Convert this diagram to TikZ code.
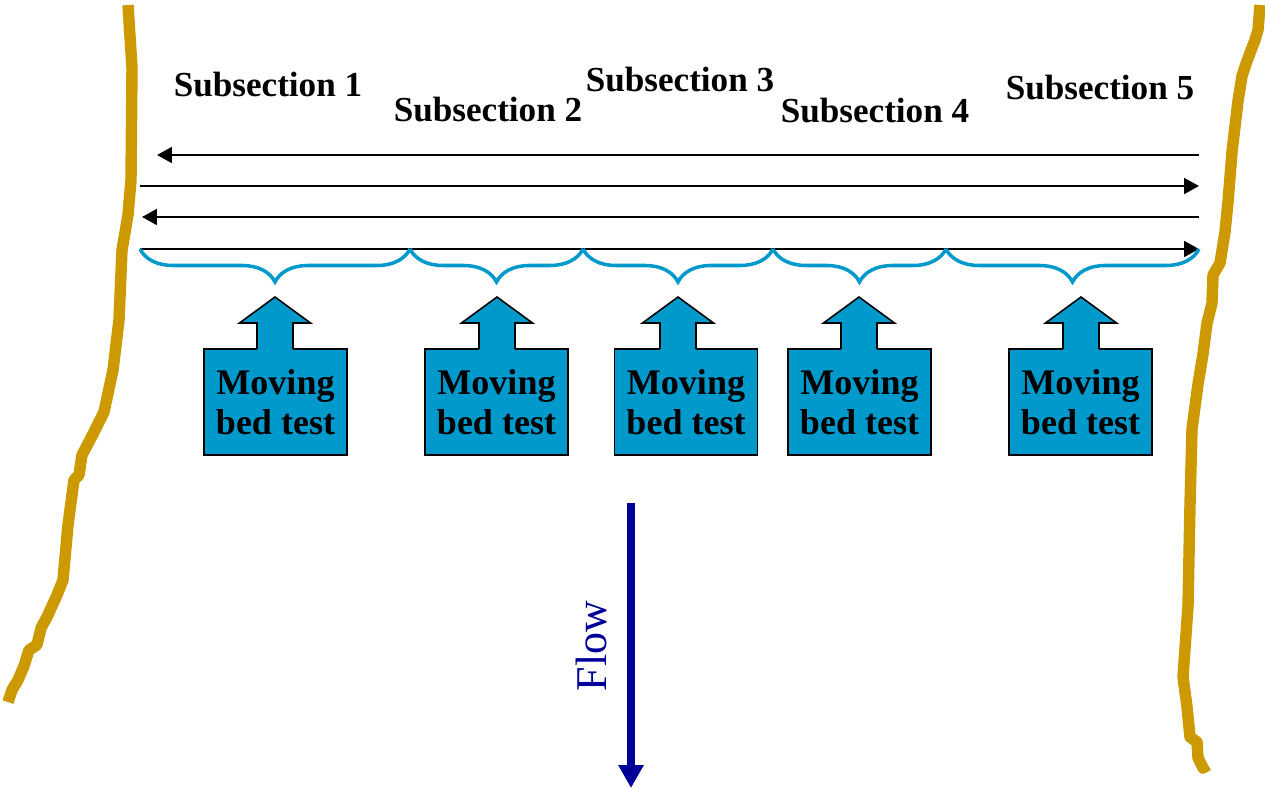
\documentclass[tikz,border=0pt]{standalone}
\usepackage{fontspec}
\setmainfont{Liberation Serif}
\usetikzlibrary{arrows.meta,decorations.pathreplacing}

\definecolor{bankgold}{HTML}{CC9900}
\definecolor{testblue}{HTML}{0099CC}
\definecolor{flowblue}{HTML}{000099}

\tikzset{
  subsec/.style={font=\fontsize{20}{24}\selectfont\bfseries, inner sep=0pt},
  pass/.style={line width=1.4pt, -{Triangle[length=8.5pt,width=9pt]}},
  bank/.style={draw=bankgold, line width=6.5pt, line join=round},
  secbrace/.style={draw=testblue, line width=2pt, decorate,
    decoration={brace,mirror,amplitude=0.66cm}},
  testbox/.style={fill=testblue, draw=black, line width=0.9pt,
    minimum width=2.86cm, minimum height=2.12cm, inner sep=0pt,
    align=center, font=\fontsize{20.5}{23}\selectfont\bfseries},
  testup/.style={draw=black, line width=0.9pt}
}

\begin{document}
\begin{tikzpicture}[x=0.02cm,y=-0.02cm]
\useasboundingbox (0,0) rectangle (1265,790);

% banks
\draw[bank] (128,5) -- (132,68) -- (131,180) -- (128,215) -- (122,250)
  -- (119,320) -- (113,370) -- (104,412) -- (91,438) -- (82,455)
  -- (79,475) -- (74,480) -- (68,525) -- (63,580) -- (57,595)
  -- (47,617) -- (41,628) -- (37,645) -- (29,650) -- (24,666)
  -- (18,680) -- (12,690) -- (8,702);
\draw[bank] (1260,5) -- (1258,30) -- (1255,40) -- (1247,61) -- (1242,76)
  -- (1238,101) -- (1232,152) -- (1228,202) -- (1225,232) -- (1220,263)
  -- (1213,275) -- (1212,303) -- (1207,323) -- (1203,354) -- (1198,384)
  -- (1192,429) -- (1190,505) -- (1188,606) -- (1183,677) -- (1187,707)
  -- (1190,737) -- (1197,742) -- (1198,758) -- (1203,768) -- (1208,765);

\node[subsec] (sub1) at (268,85) {Subsection 1};
\node[subsec] (sub2) at (488,110) {Subsection 2};
\node[subsec] (sub3) at (680,80) {Subsection 3};
\node[subsec] (sub4) at (875,111) {Subsection 4};
\node[subsec] (sub5) at (1100,88) {Subsection 5};

\coordinate (w1) at (157,155);
\coordinate (e1) at (1199,155);
\coordinate (w2) at (140,186);
\coordinate (e2) at (1199,186);
\coordinate (w3) at (142,217);
\coordinate (e3) at (1199,217);
\coordinate (w4) at (140,249);
\coordinate (e4) at (1199,249);
\draw[pass] (e1) -- (w1);
\draw[pass] (w2) -- (e2);
\draw[pass] (e3) -- (w3);
\draw[pass] (w4) -- (e4);

\foreach \n/\x in {0/140,1/410,2/583,3/773,4/946,5/1199}
  \coordinate (b\n) at (\x,249);
\foreach \a/\b in {b0/b1,b1/b2,b2/b3,b3/b4,b4/b5}
  \draw[secbrace] (\a) -- (\b);

\foreach \n/\cx/\ax in {1/275.5/275,2/496.5/497,3/686/678,4/859.5/859,5/1080.5/1081}{
  \node[testbox] (test\n) at (\cx,402) {Moving\\bed test};
  \fill[testblue] (\ax-18,350.5) -- (\ax-18,323) -- (\ax-35.5,323) -- (\ax,297)
    -- (\ax+35.5,323) -- (\ax+18,323) -- (\ax+18,350.5) -- cycle;
  \draw[testup] (\ax-18,349) -- (\ax-18,323) -- (\ax-35.5,323) -- (\ax,297)
    -- (\ax+35.5,323) -- (\ax+18,323) -- (\ax+18,349);
}

\coordinate (flowtop) at (631,503);
\coordinate (flowend) at (631,788);
\draw[flowblue, line width=4.5pt, -{Triangle[length=13pt,width=13.6pt]}] (flowtop) -- (flowend);
\node[flowblue, rotate=90, font=\fontsize{25}{30}\selectfont] (flowlabel) at (591,646) {Flow};
\end{tikzpicture}
\end{document}
